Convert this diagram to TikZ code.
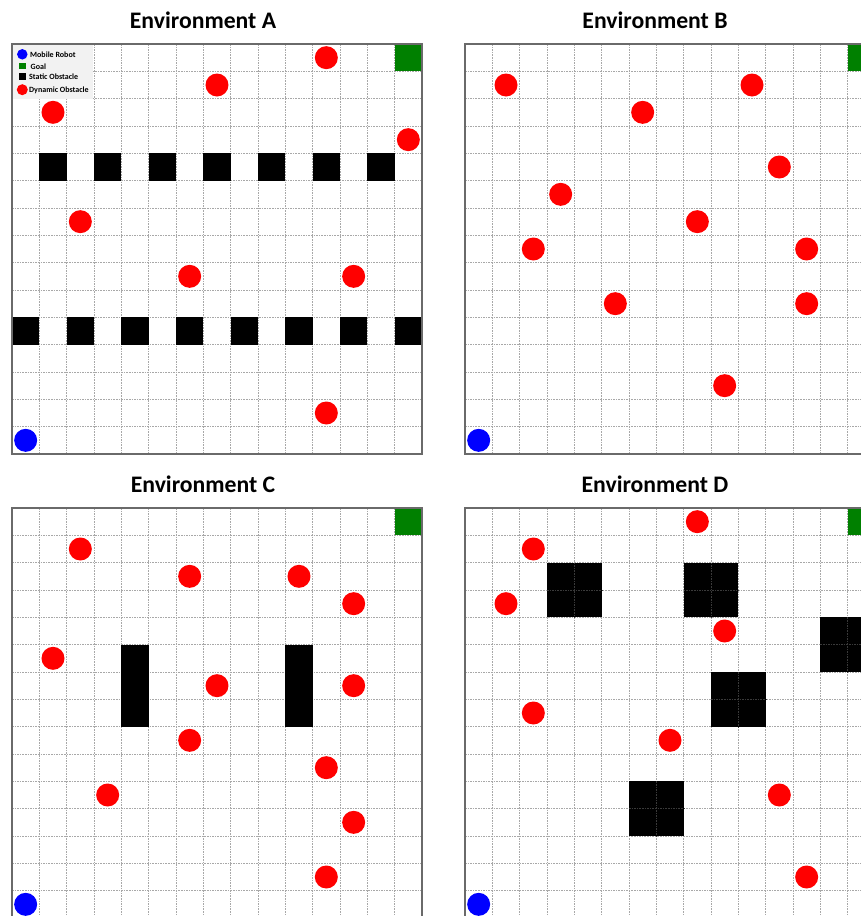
\documentclass[tikz,border=0pt]{standalone}
\usepackage{fontspec}
\setmainfont{Carlito}
\definecolor{gridgray}{HTML}{A8A8A8}
\definecolor{framegray}{HTML}{6A6A6A}
\definecolor{dynred}{HTML}{FF0000}
\definecolor{robotblue}{HTML}{0000FF}
\definecolor{goalgreen}{HTML}{008000}
\definecolor{legendbg}{HTML}{F2F2F2}
\definecolor{innergray}{HTML}{3A3A3A}
\tikzset{
  gridline/.style={draw=gridgray, line width=0.6pt, dash pattern=on 1.6pt off 1pt},
  frameline/.style={draw=framegray, line width=1.1pt},
  dyn/.style={circle, fill=dynred, inner sep=0pt, minimum size=23pt},
  robot/.style={circle, fill=robotblue, inner sep=0pt, minimum size=23pt},
  titletext/.style={font=\bfseries\fontsize{23.7}{28}\selectfont, inner sep=0pt},
  legtext/.style={font=\bfseries\fontsize{8}{9}\selectfont, inner sep=0pt, anchor=west},
  panel/.style={x=27.333pt, y=-27.333pt}
}
\newcommand\envgrid{%
  \foreach \i in {1,...,14} {
    \draw[gridline] (\i,0) -- (\i,15);
    \draw[gridline] (0,\i) -- (15,\i);
  }}
\newcommand\envcommon[1]{%
  \fill[goalgreen] (14,0) rectangle (15,1);
  \node[robot] (#1-robot) at (0.5,14.5) {};}
\begin{document}
\begin{tikzpicture}[x=1pt,y=-1pt]
\useasboundingbox (0,0) rectangle (861,916);
\clip (0,0) rectangle (861,916);
\fill[white] (0,0) rectangle (861,916);

% Titles
\node[titletext] (tA) at (203,20) {Environment A};
\node[titletext] (tB) at (655,20) {Environment B};
\node[titletext] (tC) at (203,484) {Environment C};
\node[titletext] (tD) at (655,484) {Environment D};

% ---------------- Environment A ----------------
\begin{scope}[shift={(12pt,-44pt)}, panel]
  \envgrid
  \foreach \c in {1,3,5,7,9,11,13} \fill[black] (\c,4) rectangle (\c+1,5);
  \foreach \c in {0,2,4,6,8,10,12,14} \fill[black] (\c,10) rectangle (\c+1,11);
  \envcommon{A}
  \foreach \c/\r [count=\k] in {11/0,7/1,1/2,14/3,2/6,6/8,12/8,11/13}
    \node[dyn] (A-d\k) at (\c+0.5,\r+0.5) {};
\end{scope}
% legend
\fill[legendbg] (12,44) rectangle (93,98.5);
\node[circle, fill=robotblue, inner sep=0pt, minimum size=10.5pt] (lg1) at (22.3,54.3) {};
\node[fill=goalgreen, inner sep=0pt, minimum size=6.8pt] (lg2) at (22.3,66) {};
\node[fill=black, inner sep=0pt, minimum size=6.5pt] (lg3) at (22.3,76.5) {};
\node[circle, fill=dynred, inner sep=0pt, minimum size=11pt] (lg4) at (22.3,89.7) {};
\node[legtext] (lt1) at (30,54.5) {Mobile Robot};
\node[legtext] (lt2) at (30.5,67.2) {Goal};
\node[legtext] (lt3) at (29,76.8) {Static Obstacle};
\node[legtext] (lt4) at (29,90) {Dynamic Obstacle};
\begin{scope}[shift={(12pt,-44pt)}, panel]
  \draw[frameline] (0,0) rectangle (15,15);
\end{scope}

% ---------------- Environment B ----------------
\begin{scope}[shift={(465pt,-44pt)}, panel]
  \envgrid
  \envcommon{B}
  \foreach \c/\r [count=\k] in {1/1,10/1,6/2,11/4,3/5,8/6,2/7,12/7,5/9,12/9,9/12}
    \node[dyn] (B-d\k) at (\c+0.5,\r+0.5) {};
  \draw[frameline] (0,0) rectangle (15,15);
\end{scope}

% ---------------- Environment C ----------------
\begin{scope}[shift={(12pt,-508pt)}, panel]
  \envgrid
  \fill[black] (4,5) rectangle (5,8);
  \fill[black] (10,5) rectangle (11,8);
  \envcommon{C}
  \foreach \c/\r [count=\k] in {2/1,6/2,10/2,12/3,1/5,7/6,12/6,6/8,11/9,3/10,12/11,11/13}
    \node[dyn] (C-d\k) at (\c+0.5,\r+0.5) {};
  \draw[frameline] (0,0) rectangle (15,15);
\end{scope}

% ---------------- Environment D ----------------
\begin{scope}[shift={(465pt,-508pt)}, panel]
  \envgrid
  \foreach \c/\r in {3/2,8/2,13/4,9/6,6/10} {
    \fill[black] (\c,\r) rectangle (\c+2,\r+2);
    \draw[innergray, line width=0.5pt, dash pattern=on 1.6pt off 1pt] (\c+1,\r) -- (\c+1,\r+2);
    \draw[innergray, line width=0.5pt, dash pattern=on 1.6pt off 1pt] (\c,\r+1) -- (\c+2,\r+1);
  }
  \envcommon{D}
  \foreach \c/\r [count=\k] in {8/0,2/1,1/3,9/4,2/7,7/8,11/10,12/13}
    \node[dyn] (D-d\k) at (\c+0.5,\r+0.5) {};
  \draw[frameline] (0,0) rectangle (15,15);
\end{scope}
\end{tikzpicture}
\end{document}
